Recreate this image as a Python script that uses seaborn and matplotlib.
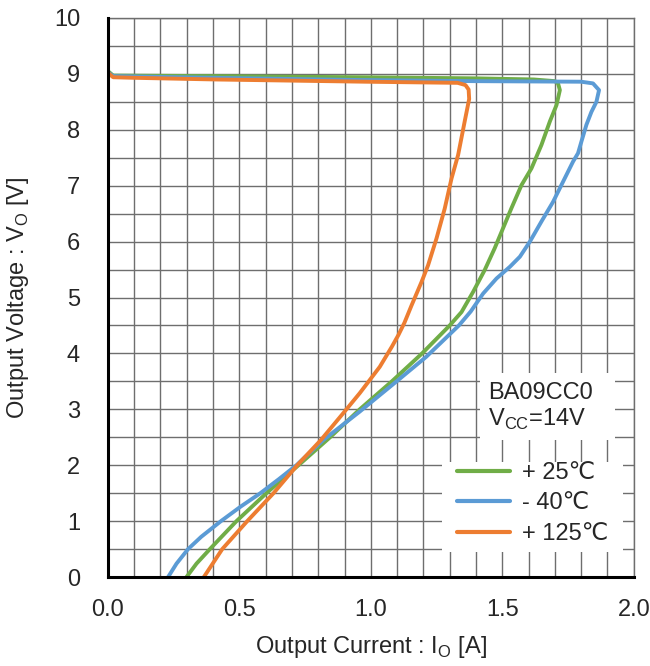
import matplotlib
matplotlib.use("Agg")
import matplotlib.pyplot as plt
from matplotlib.patches import Rectangle
import numpy as np
import seaborn as sns

# Output voltage vs output current, BA09CC0 @ VCC=14V
labels = ["+ 25\u2103", "- 40\u2103", "+ 125\u2103"]
colors = ["#70AD47", "#5B9BD5", "#ED7D31"]

green_x = [0.00, 0.02, 0.40, 0.96, 1.40, 1.62, 1.70, 1.712, 1.719, 1.706, 1.681, 1.649,
           1.611, 1.573, 1.535, 1.503, 1.471, 1.433, 1.389, 1.345, 1.30, 1.195, 1.08,
           0.958, 0.845, 0.725, 0.603, 0.489, 0.388, 0.337, 0.299]
green_y = [9.05, 8.97, 8.96, 8.94, 8.92, 8.90, 8.87, 8.83, 8.71, 8.44, 8.15, 7.73,
           7.31, 7.01, 6.60, 6.24, 5.88, 5.49, 5.10, 4.74, 4.50, 4.00, 3.50,
           3.00, 2.50, 2.00, 1.50, 1.00, 0.50, 0.24, 0.0]

blue_x = [0.00, 0.02, 0.40, 0.96, 1.40, 1.80, 1.845, 1.868, 1.858, 1.839, 1.82, 1.801,
          1.788, 1.769, 1.731, 1.693, 1.649, 1.605, 1.567, 1.529, 1.478, 1.427, 1.38,
          1.335, 1.211, 1.098, 0.958, 0.819, 0.717, 0.65, 0.58, 0.505, 0.43, 0.355,
          0.305, 0.261, 0.229]
blue_y = [9.03, 8.96, 8.93, 8.89, 8.87, 8.86, 8.83, 8.71, 8.50, 8.32, 8.09, 7.79,
          7.58, 7.43, 7.07, 6.71, 6.36, 6.00, 5.73, 5.55, 5.34, 5.07, 4.75,
          4.50, 3.94, 3.50, 2.96, 2.45, 2.00, 1.75, 1.50, 1.26, 1.00, 0.72,
          0.50, 0.24, 0.0]

orange_x = [0.00, 0.02, 0.10, 0.41, 0.98, 1.33, 1.36, 1.372, 1.374, 1.357, 1.332, 1.307,
            1.281, 1.25, 1.218, 1.193, 1.155, 1.128, 1.105, 1.08, 1.034, 0.958, 0.895,
            0.81, 0.72, 0.63, 0.53, 0.435, 0.365]
orange_y = [9.02, 8.94, 8.93, 8.90, 8.86, 8.84, 8.80, 8.72, 8.55, 8.15, 7.55, 7.13,
            6.59, 6.06, 5.58, 5.28, 4.86, 4.55, 4.33, 4.12, 3.76, 3.29, 2.93,
            2.45, 2.00, 1.50, 1.00, 0.50, 0.0]

series = [(green_x, green_y), (blue_x, blue_y), (orange_x, orange_y)]

sns.set_style("white")
plt.rcParams["font.family"] = ["Liberation Sans", "DejaVu Sans"]
plt.rcParams["mathtext.fontset"] = "custom"
plt.rcParams["mathtext.rm"] = "Liberation Sans"

FS = 17
fig = plt.figure(figsize=(6.5, 6.66), dpi=100)
ax = fig.add_axes([0.166, 0.1336, 0.809, 0.8394])

for (xs, ys), lab, col in zip(series, labels, colors):
    sns.lineplot(x=xs, y=ys, sort=False, estimator=None, color=col, lw=2.8,
                 label=lab, ax=ax, zorder=3,
                 solid_joinstyle="round", solid_capstyle="round")

ax.set_xlim(0, 2.0)
ax.set_ylim(0, 10)
ax.set_xticks(np.arange(0, 2.01, 0.5))
ax.set_xticklabels([f"{v:.1f}" for v in np.arange(0, 2.01, 0.5)])
ax.set_yticks(np.arange(0, 11, 1))
ax.set_xticks(np.arange(0, 2.01, 0.1), minor=True)
ax.set_yticks(np.arange(0, 10.01, 0.5), minor=True)
ax.grid(True, which="both", color="#6e6e6e", lw=1.0)
ax.set_axisbelow(True)
ax.tick_params(which="both", length=0)
ax.tick_params(axis="x", labelsize=FS, pad=16)
ax.tick_params(axis="y", labelsize=FS, pad=20)

for s in ["left", "bottom"]:
    ax.spines[s].set_color("black")
    ax.spines[s].set_linewidth(2.2)
    ax.spines[s].set_zorder(4)
for s in ["top", "right"]:
    ax.spines[s].set_color("#6e6e6e")
    ax.spines[s].set_linewidth(1.0)

ax.set_xlabel(r"Output Current : I$_\mathregular{O}$ [A]", fontsize=FS)
ax.set_ylabel(r"Output Voltage : V$_\mathregular{O}$ [V]", fontsize=FS)
ax.xaxis.set_label_coords(0.5, -0.125)
ax.yaxis.set_label_coords(-0.171, 0.5)
ax.xaxis.label.set_va("center")
ax.yaxis.label.set_va("center")

# white box behind the device note
ax.add_patch(Rectangle((1.414, 2.45), 0.514, 1.20, facecolor="white",
                       edgecolor="none", zorder=1))
ax.text(1.445, 3.18, "BA09CC0", fontsize=FS, va="baseline", ha="left", zorder=5)
ax.text(1.445, 2.70, r"V$_\mathregular{CC}$=14V", fontsize=FS, va="baseline",
        ha="left", zorder=5)

# white box behind the legend
ax.add_patch(Rectangle((0.635, 0.0447), 0.344, 0.161, transform=ax.transAxes,
                       facecolor="white", edgecolor="none", zorder=1))
leg = ax.legend(loc="upper left", bbox_to_anchor=(0.6635, 0.206), fontsize=FS,
                frameon=False, handlelength=2.25, handletextpad=0.5,
                labelspacing=0.36, borderpad=0, borderaxespad=0)
for line in leg.get_lines():
    line.set_linewidth(3.0)
leg.set_zorder(5)

fig.savefig("out.png", dpi=100)
